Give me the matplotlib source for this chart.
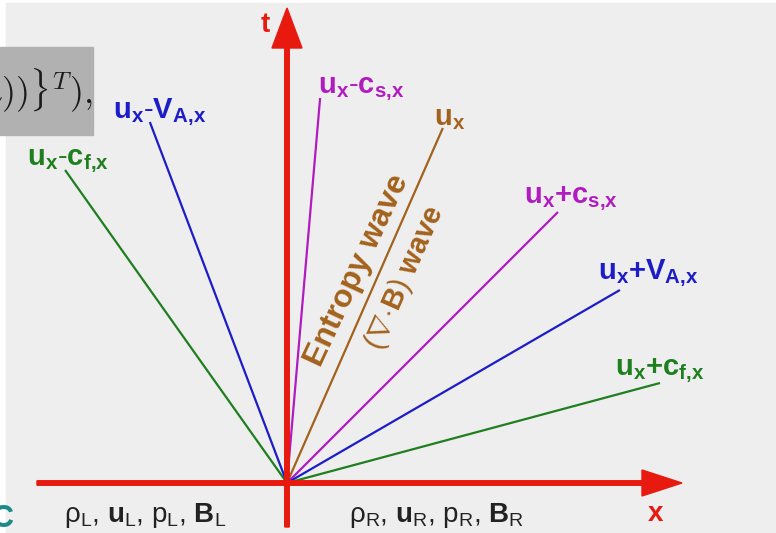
import matplotlib
matplotlib.use('Agg')
import matplotlib.pyplot as plt
from matplotlib.patches import Rectangle

plt.rcParams['font.family'] = ['Liberation Sans', 'DejaVu Sans']
plt.rcParams['mathtext.fontset'] = 'custom'
plt.rcParams['mathtext.rm'] = 'Liberation Sans'
plt.rcParams['mathtext.bf'] = 'Liberation Sans:bold'
plt.rcParams['mathtext.it'] = 'Liberation Sans:italic'

# characteristic speeds dx/dt (axis units) and how far up in t each one is drawn
wave_names = [r'$\mathbf{u_{x}{\text{-}}c_{f{,}x}}$', r'$\mathbf{u_{x}{\text{-}}V_{A{,}x}}$',
              r'$\mathbf{u_{x}{\text{-}}c_{s{,}x}}$', r'$\mathbf{u_{x}}$',
              r'$\mathbf{u_{x}{+}c_{s{,}x}}$', r'$\mathbf{u_{x}{+}V_{A{,}x}}$',
              r'$\mathbf{u_{x}{+}c_{f{,}x}}$']
wave_speeds = [-0.709, -0.380, 0.086, 0.439, 1.0, 1.725, 3.73]
wave_tmax = [313, 361, 385, 355, 271, 193, 100]
wave_colors = ['#1f7f1f', '#1c1cc8', '#b01cc0', '#a3621c', '#b01cc0', '#1c1cc8', '#1f7f1f']

# label anchors (x, t)
label_pos = [(-219, 322), (-127, 371), (74, 394), (163, 365), (284, 284), (361, 210), (373, 112)]

left_state = r'$\mathrm{ρ}_{\mathrm{L}}{,}\ \mathbf{u}_{\mathrm{L}}{,}\ \mathrm{p}_{\mathrm{L}}{,}\ \mathbf{B}_{\mathrm{L}}$'
right_state = r'$\mathrm{ρ}_{\mathrm{R}}{,}\ \mathbf{u}_{\mathrm{R}}{,}\ \mathrm{p}_{\mathrm{R}}{,}\ \mathbf{B}_{\mathrm{R}}$'

red = '#e8190e'

fig = plt.figure(figsize=(7.76, 5.33), dpi=100)
fig.patch.set_facecolor('white')
ax = fig.add_axes([0, 0, 1, 1])
ax.set_xlim(-287, 489)
ax.set_ylim(-50, 483)
ax.axis('off')
ax.add_patch(Rectangle((6 / 776, 0), 770 / 776, 530 / 533, transform=ax.transAxes,
                       color='#eeeeee', zorder=0))

# characteristics fanning out of the origin
for s, tm, c in zip(wave_speeds, wave_tmax, wave_colors):
    ax.plot([0, s * tm], [0, tm], color=c, lw=1.6, solid_capstyle='butt', zorder=2)

for name, (lx, lt), c in zip(wave_names, label_pos, wave_colors):
    ax.text(lx, lt, name, color=c, fontsize=21, ha='center', va='center')

# x and t axes
ax.arrow(-250, 0, 645, 0, width=4.5, head_width=26, head_length=40,
         length_includes_head=True, color=red, zorder=3)
ax.arrow(0, -44, 0, 519, width=4.5, head_width=30, head_length=40,
         length_includes_head=True, color=red, zorder=3)
ax.text(-22, 458, 't', color=red, fontsize=20, fontweight='bold', ha='center', va='center')
ax.text(369, -31, 'x', color=red, fontsize=20, fontweight='bold', ha='center', va='center')

# labels along the contact line
ax.text(70, 213, 'Entropy wave', color=wave_colors[3], fontsize=23, fontweight='bold',
        rotation=65, rotation_mode='anchor', ha='center', va='center')
ax.text(118, 205, r'$(\nabla\!\cdot\!\mathbf{B})$ wave', color=wave_colors[3], fontsize=21,
        fontweight='bold', rotation=66, rotation_mode='anchor', ha='center', va='center')

# left / right states
ax.text(-142, -32, left_state, color='#222222', fontsize=20, ha='center', va='center')
ax.text(150, -32, right_state, color='#222222', fontsize=20, ha='center', va='center')

# leftover slide pieces
box = Rectangle((-287, 348), 93, 88, color='#b1b1b1', zorder=4)
ax.add_patch(box)
snip = ax.text(-194, 393, r'$\iota))\}^{T}),$', color='#1a1a1a', fontsize=26,
               math_fontfamily='cm', ha='right', va='center', zorder=5)
snip.set_clip_path(box)
ax.text(-284, -36, 'C', color='#1a8a8a', fontsize=22, fontweight='bold',
        ha='center', va='center')

fig.savefig('out.png', dpi=100)
